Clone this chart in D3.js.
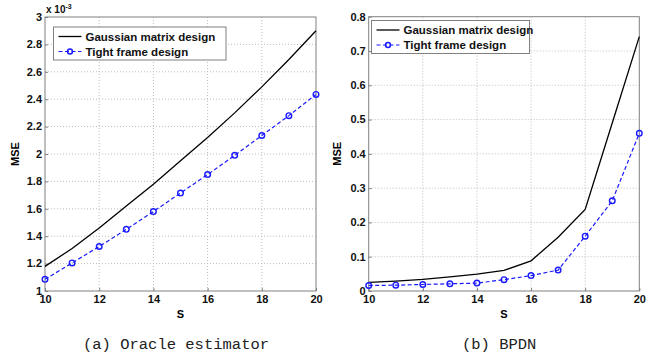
<!DOCTYPE html>
<html>
<head>
<meta charset="utf-8">
<script src="https://cdn.jsdelivr.net/npm/d3@7"></script>
<style>
  body { margin: 0; background: #fff; }
  svg { font-family: "Liberation Sans", Arial, sans-serif; }
  .caption { font-family: "Liberation Mono", "Courier New", monospace; }
</style>
</head>
<body>
<svg id="chart" width="665" height="362"></svg>
<script>
// S values shared by both panels
const sValues = [10, 11, 12, 13, 14, 15, 16, 17, 18, 19, 20]
const xTicks = [10, 12, 14, 16, 18, 20]

// (a) Oracle estimator, MSE in units of 1e-3
const oracleGaussian = [1.18, 1.31, 1.46, 1.62, 1.78, 1.95, 2.12, 2.30, 2.49, 2.69, 2.90]
const oracleTight = [1.085, 1.205, 1.325, 1.45, 1.58, 1.715, 1.85, 1.99, 2.135, 2.28, 2.435]
const oracleYTicks = [1, 1.2, 1.4, 1.6, 1.8, 2, 2.2, 2.4, 2.6, 2.8, 3]

// (b) BPDN
const bpdnGaussian = [0.025, 0.029, 0.034, 0.041, 0.049, 0.060, 0.088, 0.157, 0.238, 0.49, 0.742]
const bpdnTight = [0.016, 0.017, 0.019, 0.021, 0.023, 0.033, 0.045, 0.061, 0.160, 0.263, 0.460]
const bpdnYTicks = [0, 0.1, 0.2, 0.3, 0.4, 0.5, 0.6, 0.7, 0.8]

const legendNames = ['Gaussian matrix design', 'Tight frame design']

const svg = d3.select('#chart')

function drawPanel(opt) {
  const x = d3.scaleLinear().domain([10, 20]).range([opt.left, opt.right])
  const y = d3.scaleLinear().domain(opt.yDomain).range([opt.bottom, opt.top])
  const g = svg.append('g')

  // grid
  g.append('g').selectAll('line.gx')
    .data(xTicks.slice(1, -1)).join('line')
    .attr('x1', d => x(d)).attr('x2', d => x(d))
    .attr('y1', opt.top).attr('y2', opt.bottom)
    .attr('stroke', '#bdbdbd').attr('stroke-dasharray', '1,2')
  g.append('g').selectAll('line.gy')
    .data(opt.yTicks.slice(1, -1)).join('line')
    .attr('y1', d => y(d)).attr('y2', d => y(d))
    .attr('x1', opt.left).attr('x2', opt.right)
    .attr('stroke', '#bdbdbd').attr('stroke-dasharray', '1,2')

  // axes (ticks inside, like matlab)
  const ax = g.append('g').attr('transform', 'translate(0,' + opt.bottom + ')')
    .call(d3.axisBottom(x).tickValues(xTicks).tickSize(-3).tickPadding(5).tickSizeOuter(0))
  const ay = g.append('g').attr('transform', 'translate(' + opt.left + ',0)')
    .call(d3.axisLeft(y).tickValues(opt.yTicks).tickSize(-3).tickPadding(3).tickSizeOuter(0)
      .tickFormat(d3.format('~g')))
  ;[ax, ay].forEach(a => {
    a.select('.domain').remove()
    a.selectAll('line').attr('stroke', '#808080')
    a.selectAll('text').attr('font-size', 11).attr('font-weight', 'bold')
      .attr('font-family', null).attr('fill', '#111')
  })
  ax.selectAll('text').attr('dy', '0.62em')
  ay.selectAll('text').attr('dy', '0.3em')

  g.append('rect')
    .attr('x', opt.left).attr('y', opt.top)
    .attr('width', opt.right - opt.left).attr('height', opt.bottom - opt.top)
    .attr('fill', 'none').attr('stroke', '#808080')

  // series
  const line = d3.line().x((d, i) => x(sValues[i])).y(d => y(d))
  g.append('path').datum(opt.gaussian).attr('d', line)
    .attr('fill', 'none').attr('stroke', '#000').attr('stroke-width', 1.3)
  g.append('path').datum(opt.tight).attr('d', line)
    .attr('fill', 'none').attr('stroke', '#1a1aff').attr('stroke-width', 1.2)
    .attr('stroke-dasharray', '4,2.5')
  g.append('g').selectAll('circle')
    .data(opt.tight).join('circle')
    .attr('cx', (d, i) => x(sValues[i])).attr('cy', d => y(d))
    .attr('r', 2.8).attr('fill', 'none').attr('stroke', '#1a1aff').attr('stroke-width', 1.4)

  // labels
  g.append('text').text('S')
    .attr('x', (opt.left + opt.right) / 2).attr('y', opt.bottom + 27)
    .attr('text-anchor', 'middle').attr('font-size', 11).attr('font-weight', 'bold')
  g.append('text').text('MSE')
    .attr('transform', 'translate(' + opt.yLabelX + ',' + ((opt.top + opt.bottom) / 2) + ') rotate(-90)')
    .attr('text-anchor', 'middle').attr('font-size', 11).attr('font-weight', 'bold')

  // legend
  const lg = g.append('g').attr('transform', 'translate(' + opt.legend[0] + ',' + opt.legend[1] + ')')
  lg.append('rect').attr('width', opt.legend[2]).attr('height', 33)
    .attr('fill', '#fff').attr('stroke', '#808080')
  lg.append('line').attr('x1', 5).attr('x2', 28).attr('y1', 9.5).attr('y2', 9.5)
    .attr('stroke', '#000').attr('stroke-width', 1.3)
  lg.append('line').attr('x1', 5).attr('x2', 28).attr('y1', 24.5).attr('y2', 24.5)
    .attr('stroke', '#1a1aff').attr('stroke-width', 1.2).attr('stroke-dasharray', '4,2.5')
  lg.append('circle').attr('cx', 16.5).attr('cy', 24.5).attr('r', 2.5)
    .attr('fill', 'none').attr('stroke', '#1a1aff').attr('stroke-width', 1.4)
  lg.selectAll('text.l').data(legendNames).join('text')
    .text(d => d).attr('x', 32).attr('y', (d, i) => 13.5 + i * 15)
    .attr('font-size', 11.5).attr('font-weight', 'bold').attr('fill', '#111')

  // caption
  g.append('text').attr('class', 'caption').text(opt.caption)
    .attr('x', opt.captionX).attr('y', 349)
    .attr('font-size', 15.5).attr('fill', '#222')
}

drawPanel({
  left: 45, right: 316, top: 17, bottom: 291,
  yDomain: [1, 3], yTicks: oracleYTicks,
  gaussian: oracleGaussian, tight: oracleTight,
  yLabelX: 19, legend: [53.5, 27, 172.5],
  caption: '(a) Oracle estimator', captionX: 83
})

// x 10^-3 exponent label for panel (a)
const ex = svg.append('text').attr('x', 46).attr('y', 13)
  .attr('font-size', 10).attr('font-weight', 'bold').attr('fill', '#111')
ex.append('tspan').text('x 10')
ex.append('tspan').text('-3').attr('font-size', 7).attr('dy', -4)

drawPanel({
  left: 368.7, right: 639.3, top: 16.7, bottom: 291,
  yDomain: [0, 0.8], yTicks: bpdnYTicks,
  gaussian: bpdnGaussian, tight: bpdnTight,
  yLabelX: 341, legend: [371.5, 20.5, 158],
  caption: '(b) BPDN', captionX: 462
})
</script>
</body>
</html>
